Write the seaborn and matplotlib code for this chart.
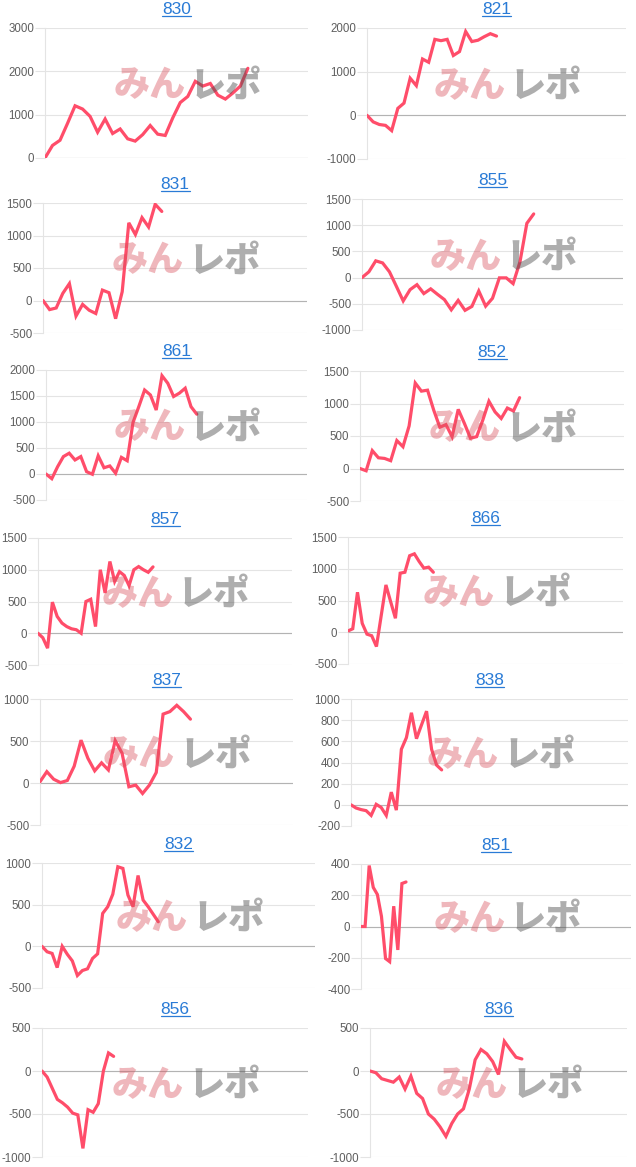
import numpy as np
import pandas as pd
import seaborn as sns
import matplotlib.pyplot as plt
from matplotlib.lines import Line2D

# ---------------- data ----------------
titles = ["830", "821", "831", "855", "861", "852", "857",
          "866", "837", "838", "832", "851", "856", "836"]

y830 = [0, 290, 410, 800, 1205, 1130, 960, 595, 900, 565, 670, 443, 390, 540,
        750, 550, 520, 925, 1280, 1420, 1770, 1660, 1720, 1450, 1360, 1500, 1660, 2070]
y821 = [0, -150, -210, -230, -350, 160, 280, 850, 680, 1290, 1215, 1740, 1710,
        1740, 1370, 1460, 1920, 1690, 1720, 1800, 1870, 1815]
y831 = [0, -140, -115, 110, 260, -240, -60, -150, -200, 160, 120, -280, 135,
        1195, 1015, 1275, 1130, 1480, 1370]
y855 = [0, 110, 320, 280, 110, -165, -445, -230, -135, -305, -215, -320, -420,
        -615, -435, -625, -550, -255, -545, -395, -5, -5, -115, 300, 1035, 1215]
y861 = [0, -90, 140, 335, 400, 270, 335, 45, -5, 350, 120, 155, 15, 320, 255,
        990, 1295, 1615, 1520, 1230, 1890, 1745, 1490, 1555, 1650, 1295, 1150]
y852 = [0, -35, 275, 165, 155, 120, 430, 335, 655, 1315, 1190, 1205, 900, 635,
        675, 490, 910, 695, 465, 490, 745, 1035, 870, 770, 930, 885, 1090]
y857 = [0, -70, -235, 490, 265, 160, 105, 70, 55, 0, 500, 535, 105, 1000, 635,
        1130, 815, 970, 910, 750, 1000, 1050, 1000, 960, 1045]
y866 = [20, 55, 630, 140, -30, -55, -225, 260, 745, 480, 220, 930, 945, 1205,
        1235, 1115, 1010, 1025, 945]
y837 = [15, 135, 45, 5, 30, 200, 510, 295, 145, 240, 155, 505, 355, -45, -25,
        -125, -25, 125, 820, 850, 925, 850, 760]
y838 = [0, -30, -45, -55, -100, 5, -25, -100, 120, -50, 525, 635, 870, 625,
        755, 885, 525, 375, 330]
y832 = [0, -65, -85, -255, 0, -95, -175, -350, -290, -270, -145, -90, 395, 475,
        625, 955, 935, 615, 475, 850, 555, 475, 385, 295]
y851 = [0, 0, 390, 250, 205, 65, -205, -225, 130, -150, 275, 285]
y856 = [0, -70, -200, -330, -370, -420, -490, -510, -900, -450, -480, -380,
        0, 210, 170]
y836 = [0, -20, -90, -110, -130, -70, -210, -60, -260, -320, -500, -560, -650,
        -760, -610, -500, -440, -210, 130, 250, 200, 110, -40, 345, 250, 160, 140]

series = [y830, y821, y831, y855, y861, y852, y857,
          y866, y837, y838, y832, y851, y856, y836]
# number of x categories in each chart
x_counts = [36, 43, 41, 39, 46, 44, 54, 59, 38, 56, 55, 67, 53, 45]
y_ranges = [(0, 3000, 1000), (-1000, 2000, 1000), (-500, 1500, 500),
            (-1000, 1500, 500), (-500, 2000, 500), (-500, 1500, 500),
            (-500, 1500, 500), (-500, 1500, 500), (-500, 1000, 500),
            (-200, 1000, 200), (-500, 1000, 500), (-400, 400, 200),
            (-1000, 500, 500), (-1000, 500, 500)]

# ---------------- layout (pixels: left, right, top, bottom) ----------------
boxes = [(45, 308, 28, 158), (367, 626, 28, 159),
         (43, 307, 203, 333), (362, 623, 199, 330),
         (46, 307, 370, 500), (360, 624, 371, 501),
         (38, 292, 538, 665), (348, 623, 537, 664),
         (40, 293, 699, 825), (351, 628, 699, 826),
         (42, 315, 863, 988), (361, 631, 864, 989),
         (42, 308, 1028, 1157), (370, 627, 1028, 1157)]

W, H = 636, 1167
sns.set_theme(style="white")
plt.rcParams['font.family'] = ['Liberation Sans', 'DejaVu Sans']
plt.rcParams['axes.unicode_minus'] = False

LINE_COLOR = "#ff4d6a"
GRID_COLOR = "#e4e4e4"
TITLE_COLOR = "#2a7bd6"

fig = plt.figure(figsize=(W / 100, H / 100), dpi=100)
fig.patch.set_facecolor("white")

title_texts = []
for title, vals, n, (ymin, ymax, step), (l, r, t, b) in zip(
        titles, series, x_counts, y_ranges, boxes):
    ax = fig.add_axes([l / W, 1 - b / H, (r - l) / W, (b - t) / H])
    df = pd.DataFrame({"x": np.arange(len(vals)), "y": vals})
    ax.axhline(0, color="#b3b3b3", lw=0.8, zorder=1)
    sns.lineplot(data=df, x="x", y="y", ax=ax, color=LINE_COLOR,
                 linewidth=2.3, zorder=3, solid_joinstyle="miter")
    ax.set_xlim(0, n - 1)
    ax.set_ylim(ymin, ymax)
    ax.set_yticks(np.arange(ymin, ymax + step / 2, step))
    ax.set_xticks([])
    ax.set_xlabel("")
    ax.set_ylabel("")
    ax.yaxis.grid(True, color=GRID_COLOR, lw=0.8)
    ax.set_axisbelow(True)
    for s in ["top", "right", "bottom"]:
        ax.spines[s].set_visible(False)
    ax.spines["left"].set_color(GRID_COLOR)
    ax.spines["left"].set_linewidth(0.8)
    ax.tick_params(axis="y", length=7.0, width=0.8, color=GRID_COLOR,
                   pad=0.7, labelsize=8.3, labelcolor="#5f5f5f", left=True)
    ax.patch.set_alpha(0)

    # watermark
    ax.text(0.535, 0.56, "みん", transform=ax.transAxes, ha="right", va="center",
            fontsize=26, fontweight="heavy", color=(0.85, 0.3, 0.35), alpha=0.4,
            family=["Noto Sans CJK JP"], zorder=5)
    ax.text(0.55, 0.56, "レポ", transform=ax.transAxes, ha="left", va="center",
            fontsize=26, fontweight="heavy", color=(0.3, 0.3, 0.3), alpha=0.45,
            family=["Noto Sans CJK JP"], zorder=5)

    tt = ax.annotate(title, xy=(0.5, 1), xycoords="axes fraction",
                     xytext=(0, 13), textcoords="offset points",
                     ha="center", va="center", fontsize=12.5, color=TITLE_COLOR)
    title_texts.append(tt)

# underline the titles (they are links in the original)
fig.canvas.draw()
renderer = fig.canvas.get_renderer()
for tt in title_texts:
    bb = tt.get_window_extent(renderer)
    y = bb.y0 + 1
    fig.add_artist(Line2D([bb.x0 / W, bb.x1 / W], [y / H, y / H],
                          transform=fig.transFigure, color=TITLE_COLOR, lw=0.9))

fig.savefig("out.png", dpi=100, facecolor="white")
